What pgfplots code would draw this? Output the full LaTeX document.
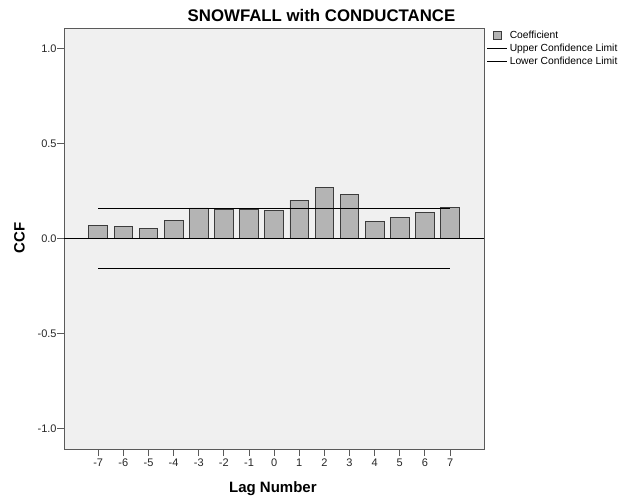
\documentclass[border=0pt]{standalone}
\usepackage{pgfplots}
\pgfplotsset{compat=1.18}
\usepackage{fontspec}
\setmainfont{Liberation Sans}
\definecolor{bgc}{HTML}{F0F0F0}
\definecolor{framec}{HTML}{5A5A5A}
\definecolor{barc}{HTML}{B4B4B4}
\definecolor{baredge}{HTML}{3C3C3C}
\begin{document}
\begin{tikzpicture}[x=1pt,y=1pt]
\useasboundingbox (0,0) rectangle (627,499);
\begin{axis}[
  at={(64.3pt,50pt)}, anchor=south west,
  scale only axis, width=419.7pt, height=421pt,
  xmin=-8.35, xmax=8.35, ymin=-1.108, ymax=1.108,
  axis background/.style={fill=bgc},
  axis line style={draw=framec, line width=0.9pt},
  xtick={-7,-6,-5,-4,-3,-2,-1,0,1,2,3,4,5,6,7},
  ytick={-1,-0.5,0,0.5,1},
  /pgf/number format/assume math mode=true,
  yticklabel style={/pgf/number format/fixed, /pgf/number format/fixed zerofill, /pgf/number format/precision=1, inner sep=0.5pt},
  xticklabel style={inner sep=1pt, yshift=-1.5pt},
  tick align=outside, tick pos=left, major tick length=7pt,
  tick style={draw=framec, line width=0.9pt},
  ticklabel style={font=\fontsize{11}{13}\selectfont, text=black!85},
  xlabel={Lag Number}, ylabel={CCF},
  label style={font=\bfseries\fontsize{15}{17}\selectfont},
  xlabel style={at={(axis description cs:0.497,-0.095)}, anchor=center},
  ylabel style={at={(axis description cs:-0.1067,0.501)}, anchor=center, rotate=0},
  legend style={at={(rel axis cs:1,1)}, anchor=north west, xshift=3pt, yshift=-1.5pt,
    draw=none, fill=none, inner sep=0pt, outer sep=0pt,
    font=\fontsize{10.3}{12}\selectfont, row sep=1.6pt,
    nodes={inner xsep=2pt, inner ysep=0.75pt, text height=8pt, text depth=2pt}},
  legend cell align=left,
  clip=false,
]
\addplot[ybar, bar width=18.7pt, fill=barc, draw=baredge, line width=0.8pt,
  legend image code/.code={\draw[fill=barc, draw=baredge, line width=0.7pt] (6pt,-4pt) rectangle (14pt,4pt);}]
  coordinates {(-7,0.070) (-6,0.063) (-5,0.053) (-4,0.095) (-3,0.161) (-2,0.153) (-1,0.153) (0,0.146) (1,0.202) (2,0.267) (3,0.232) (4,0.091) (5,0.112) (6,0.137) (7,0.162)};
\addlegendentry{Coefficient}
\addplot[black, line width=0.8pt, legend image code/.code={\draw[black, line width=0.8pt] (0pt,0pt) -- (20pt,0pt);}]
  coordinates {(-7,0.158) (7,0.158)};
\addlegendentry{Upper Confidence Limit}
\addplot[black, line width=0.8pt, legend image code/.code={\draw[black, line width=0.8pt] (0pt,0pt) -- (20pt,0pt);}]
  coordinates {(-7,-0.158) (7,-0.158)};
\addlegendentry{Lower Confidence Limit}
\addplot[black, line width=0.9pt, forget plot] coordinates {(-8.35,0) (8.35,0)};
\end{axis}
\node[font=\bfseries\fontsize{16.8}{19}\selectfont, anchor=center] at (321.5,484) {SNOWFALL with CONDUCTANCE};
\end{tikzpicture}
\end{document}
